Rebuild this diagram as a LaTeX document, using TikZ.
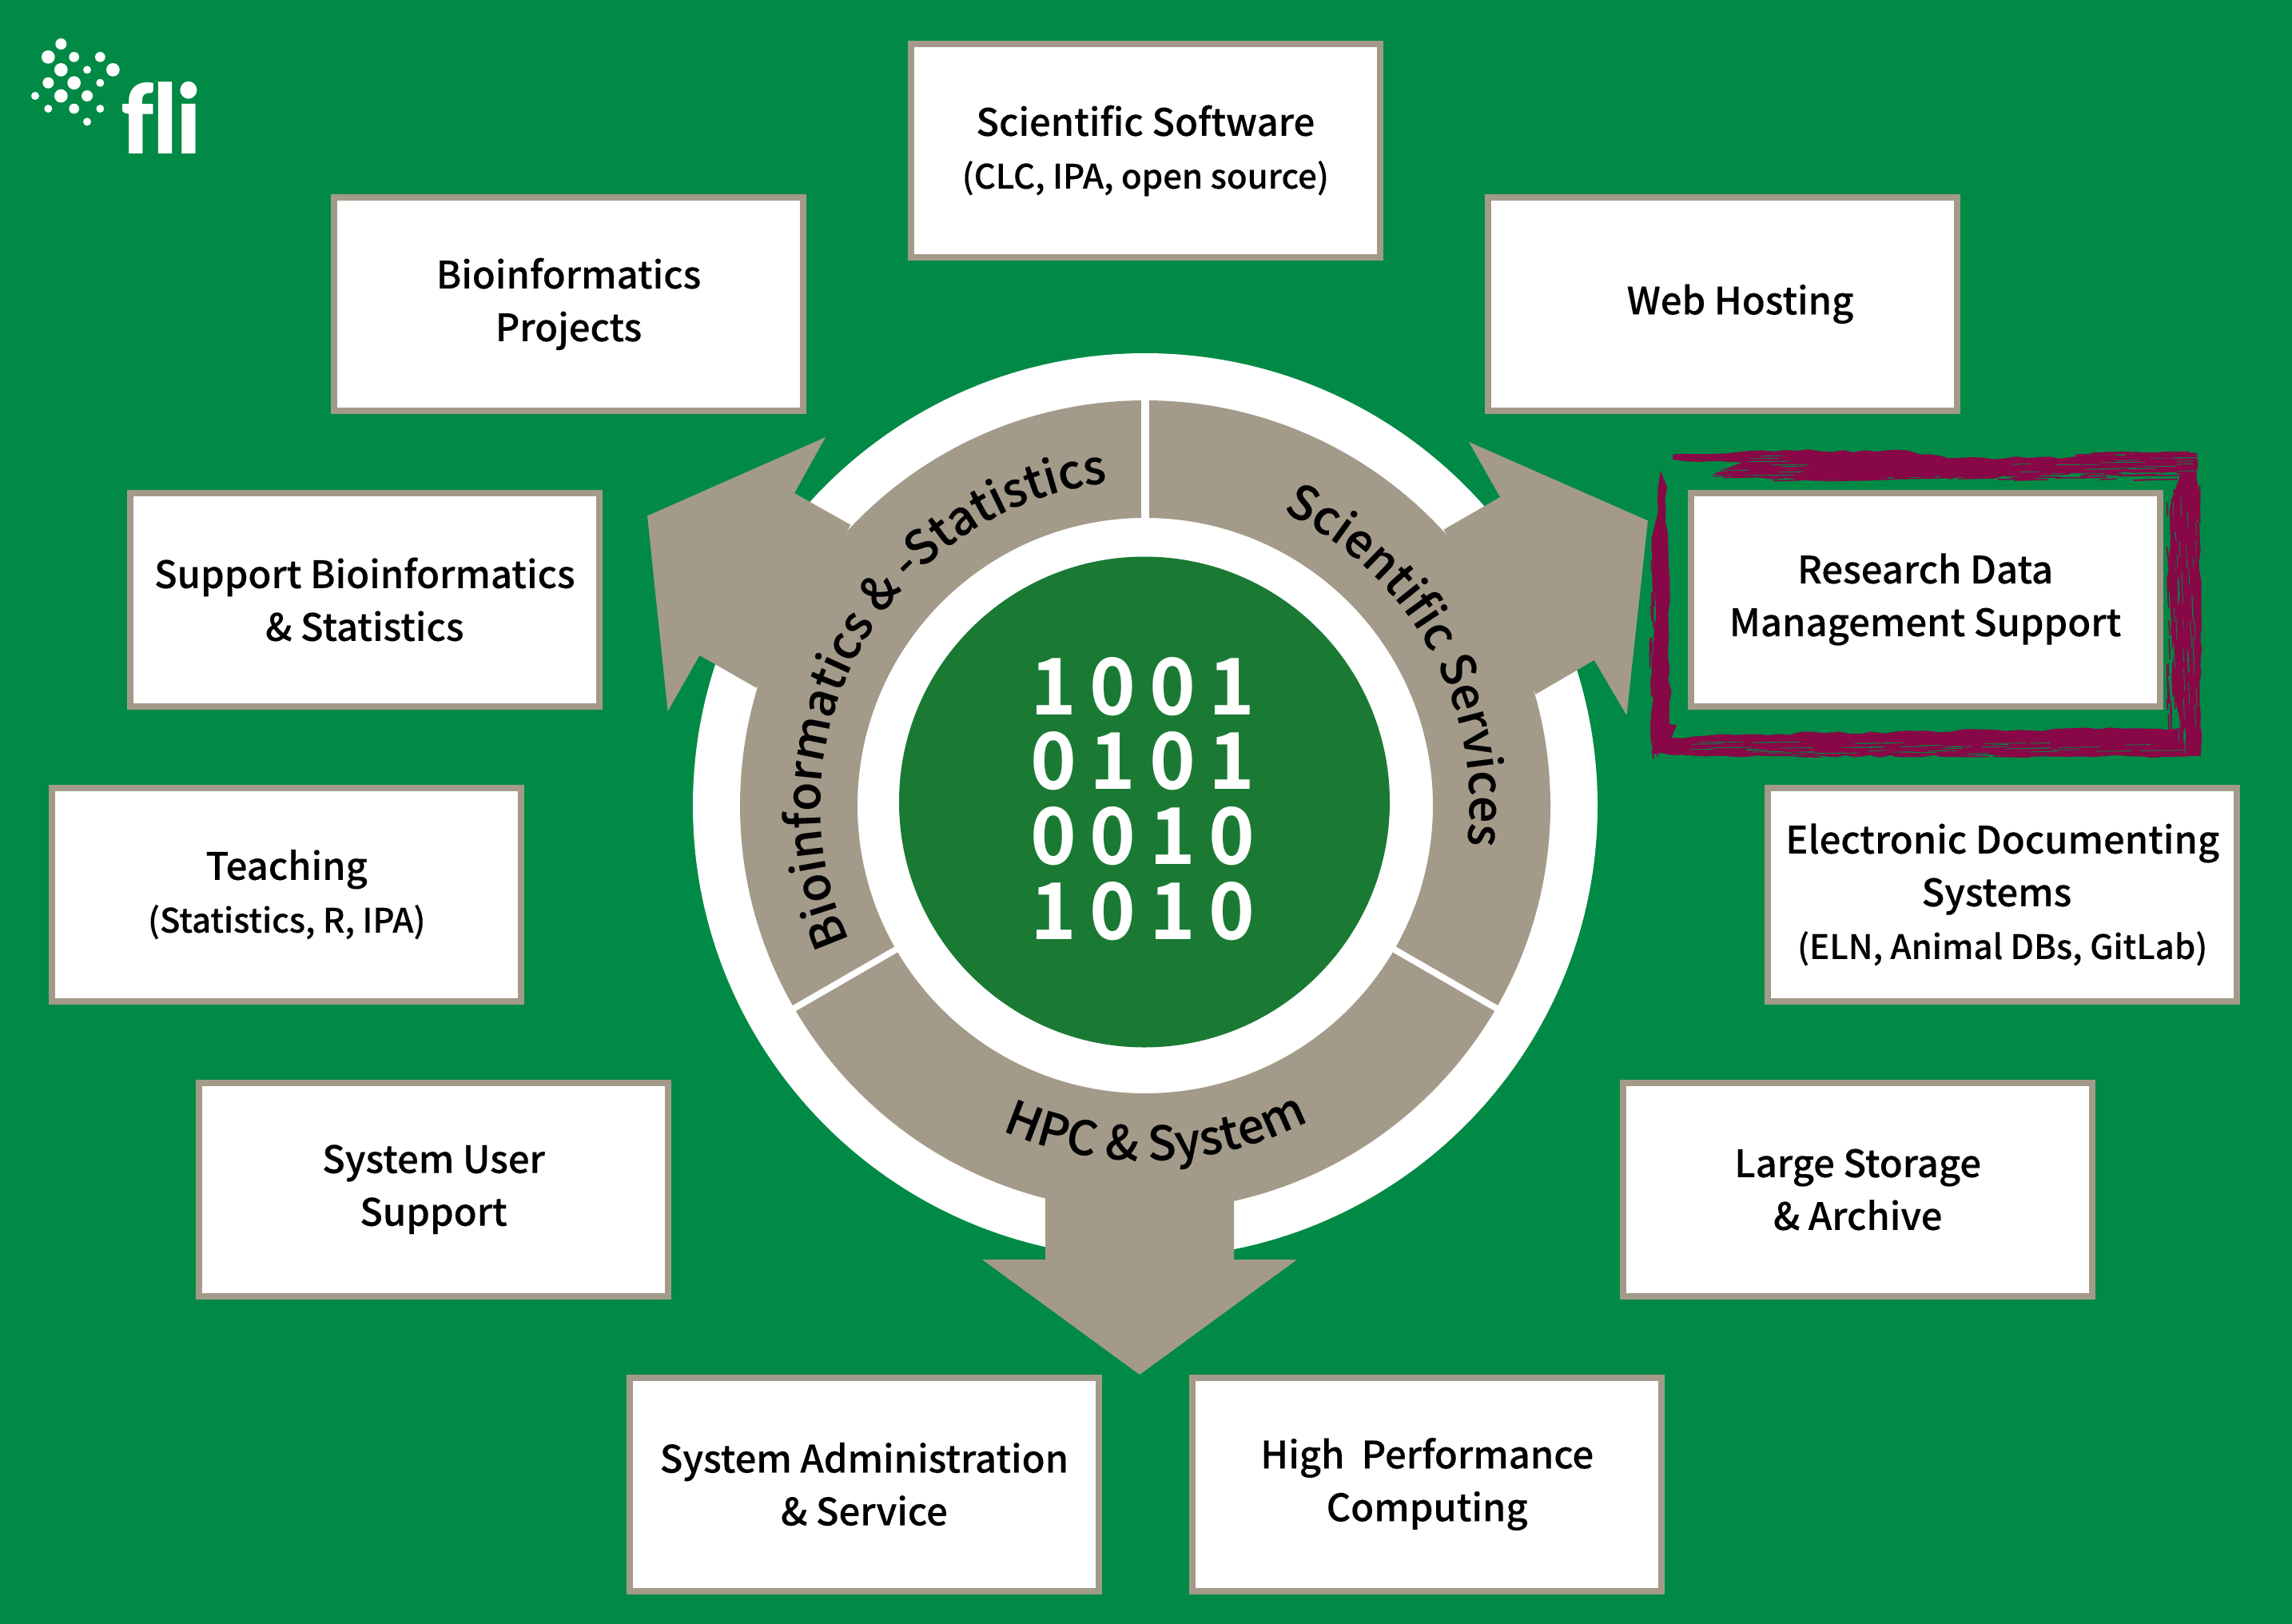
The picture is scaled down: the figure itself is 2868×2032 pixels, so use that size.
\documentclass[tikz,border=0pt]{standalone}
\usepackage{fontspec}
\setmainfont{Noto Sans CJK SC}[UprightFont=* Medium,BoldFont=* Bold,UprightFeatures={FakeBold=0.2}]
\newfontfamily\logofont{Lato}[Ligatures=NoCommon,BoldFont=* Black]
\usetikzlibrary{decorations.text,decorations.pathmorphing}
\definecolor{bggreen}{RGB}{0,138,69}
\definecolor{coregreen}{RGB}{26,122,52}
\definecolor{tan}{RGB}{163,154,138}
\definecolor{brush}{RGB}{135,7,71}
\newcommand{\subtxt}{\fontsize{21}{33}\selectfont}
\newcommand{\ringfont}{\fontsize{29.5}{34}\selectfont}
\newcommand{\dg}[1]{\makebox[37.2pt][c]{#1}}
\tikzset{
  infobox/.style={draw=tan,fill=white,line width=4pt,minimum width=293.5pt,minimum height=133.5pt,
    inner sep=0pt,outer sep=0pt,align=center,text=black,font=\fontsize{23.6}{33}\selectfont},
  bitrow/.style={text=white,inner sep=0pt,font=\fontsize{49}{60}\selectfont\bfseries},
  ringtext/.style={decorate,decoration={text along path,text align=center,text={#1}}},
  brushband/.style={fill=brush,decorate,decoration={random steps,segment length=7pt,amplitude=1.1pt}},
  streak/.style={draw=bggreen,line width=0.4pt},
  stray/.style={draw=brush,line width=0.8pt},
  dot/.style={fill=white,draw=none}
}
\begin{document}
\begin{tikzpicture}[x=0.5pt,y=-0.5pt]
\useasboundingbox (0,0) rectangle (2868,2032);
\fill[bggreen] (0,0) rectangle (2868,2032);
\coordinate (C) at (1433,1008);
\coordinate (K) at (1432,1003.5);

% logo
\begin{scope}[x=0.16667pt,y=-0.16667pt]
\foreach \px/\py/\pr in {229/165/21,181/214/25,278/214/19,376/214/19,229/262/25,327/262/15,424/262/25,181/311/21,278/311/25,376/311/15,132/360/15,229/360/25,327/360/21,181/408/15,278/408/19,376/408/15,327/457/15}
  \fill[dot] (\px,\py) circle[radius=\pr];
\end{scope}
\node[text=white,inner sep=0pt,anchor=base west] (logotext) at (151,193)
  {\scalebox{0.93}[1]{\logofont\bfseries\fontsize{60}{60}\selectfont fli}};

% rings
\fill[white] (C) circle[radius=283pt];
\begin{scope}[shift={(C)},y=0.5pt]
\fill[tan,even odd rule] (0,0) circle[radius=507] (0,0) circle[radius=360];
\draw[white,line width=5pt] (90:359) -- (90:508);
\draw[white,line width=4pt] (210:359) -- (210:508);
\draw[white,line width=4pt] (330:359) -- (330:508);
\path[ringtext={|\ringfont|Bioinformatics {\&} -Statistics}]
  (215.1:407) arc[start angle=215.1,end angle=86.1,radius=407];
\path[ringtext={|\ringfont|Scientific Services}]
  (83:406) arc[start angle=83,end angle=-25,radius=406];
\path[ringtext={|\ringfont|HPC {\&} System}]
  (234.8:444) arc[start angle=234.8,end angle=308.8,radius=444];
\end{scope}
\fill[coregreen] (K) circle[radius=153.5pt];

% arrows
\fill[tan] (1064.4,656.7)--(994,617)--(1033,547)--(810,645.5)--(835.6,890)--(875.4,820)--(946.7,860.8)--cycle;
\fill[tan] (1806.5,662.7)--(1877,622)--(1838,553)--(2062,651.5)--(2035.4,895)--(1994.8,826)--(1921.8,868.6)--cycle;
\fill[tan] (1308,1490)--(1308,1576)--(1229,1576)--(1426,1720)--(1623,1576)--(1544,1576)--(1544,1490)--cycle;

% binary core
\node[bitrow] (bits1) at (1430,859) {\dg{1}\dg{0}\dg{0}\dg{1}};
\node[bitrow] (bits2) at (1430,952) {\dg{0}\dg{1}\dg{0}\dg{1}};
\node[bitrow] (bits3) at (1430,1046) {\dg{0}\dg{0}\dg{1}\dg{0}};
\node[bitrow] (bits4) at (1430,1140) {\dg{1}\dg{0}\dg{1}\dg{0}};

% brush frame
\pgfmathsetseed{11}
\begin{scope}[shift={(2040,540)},x=0.24237pt,y=-0.16667pt]
\fill[brushband] (110,85)--(430,72)--(720,72)--(820,100)--(1130,97)--(1462,80)--(1462,160)--(1300,155)--(1000,170)--(700,176)--(430,180)--(210,165)--(290,115)--(110,105)--cycle;
\fill[brushband] (1400,150)--(1462,80)--(1468,400)--(1474,900)--(1472,1212)--(1415,1212)--(1420,1140)--(1405,1000)--(1392,600)--(1392,300)--(1420,160)--cycle;
\fill[brushband] (55,1212)--(500,1218)--(1472,1218)--(1472,1112)--(1000,1120)--(500,1132)--(220,1138)--(100,1148)--(60,1150)--cycle;
\fill[brushband] (78,145)--(95,210)--(92,300)--(102,600)--(102,1100)--(120,1100)--(102,1160)--(55,1212)--(55,900)--(66,700)--(55,400)--(72,300)--cycle;
\foreach \i in {1,...,45}{
  \pgfmathsetmacro{\sx}{60+rnd*1300}\pgfmathsetmacro{\sy}{1165+rnd*45}\pgfmathsetmacro{\sl}{30+rnd*90}
  \draw[streak] (\sx,\sy) -- ++(\sl,-2);
  \pgfmathsetmacro{\tx}{120+rnd*1300}\pgfmathsetmacro{\ty}{88+rnd*82}\pgfmathsetmacro{\tl}{30+rnd*90}
  \ifdim\tx pt<400pt\draw[streak] (\tx,\ty) -- ++(\tl,-2);\else
    \ifdim\tx pt>980pt\draw[streak] (\tx,\ty) -- ++(\tl,-2);\fi\fi
  \pgfmathsetmacro{\ax}{210+rnd*1150}\pgfmathsetmacro{\ay}{160+rnd*25}\pgfmathsetmacro{\al}{30+rnd*100}
  \draw[stray] (\ax,\ay) -- ++(\al,-3);
  \pgfmathsetmacro{\bx}{80+rnd*1250}\pgfmathsetmacro{\by}{1205+rnd*15}\pgfmathsetmacro{\bl}{30+rnd*100}
  \draw[stray] (\bx,\by) -- ++(\bl,2);
  \pgfmathsetmacro{\cx}{1140+rnd*260}\pgfmathsetmacro{\cy}{78+rnd*22}\pgfmathsetmacro{\cl}{20+rnd*50}
  \draw[stray] (\cx,\cy) -- ++(\cl,-1);
  \pgfmathsetmacro{\dx}{1462+rnd*8}\pgfmathsetmacro{\dy}{200+rnd*900}\pgfmathsetmacro{\dl}{30+rnd*70}
  \draw[stray] (\dx,\dy) -- ++(1,\dl);
  \pgfmathsetmacro{\ex}{1385+rnd*20}\pgfmathsetmacro{\ey}{180+rnd*900}\pgfmathsetmacro{\el}{30+rnd*70}
  \draw[stray] (\ex,\ey) -- ++(2,\el);
  \pgfmathsetmacro{\fx}{50+rnd*20}\pgfmathsetmacro{\fy}{380+rnd*780}\pgfmathsetmacro{\fl}{30+rnd*70}
  \draw[stray] (\fx,\fy) -- ++(1,\fl);
  \pgfmathsetmacro{\vx}{1400+rnd*70}\pgfmathsetmacro{\vy}{180+rnd*950}\pgfmathsetmacro{\vl}{30+rnd*70}
  \draw[streak] (\vx,\vy) -- ++(2,\vl);
}
\end{scope}

% boxes
\node[infobox] (software) at (1433.3,188.5) {Scientific Software\\{\subtxt (CLC, IPA, open source)}};
\node[infobox] (web) at (2155.5,380.4) {\hspace*{22pt}Web Hosting};
\node[infobox] (projects) at (711.5,380.4) {Bioinformatics\\Projects};
\node[infobox] (support) at (456.3,750) {Support Bioinformatics\\\& Statistics};
\node[infobox] (rdm) at (2409,750) {Research Data\\Management Support};
\node[infobox] (docs) at (2505.7,1119.3) {Electronic Documenting\\Systems\hspace*{7.3pt}\mbox{}\\{\subtxt (ELN, Animal DBs, GitLab)}};
\node[infobox] (teaching) at (358.7,1119.2) {Teaching\\{\subtxt (Statistics, R, IPA)}};
\node[infobox] (storage) at (2324.7,1488.5) {Large Storage\\\& Archive};
\node[infobox] (sysuser) at (542.5,1488.2) {System User\\Support};
\node[infobox] (sysadmin) at (1081.4,1857) {System Administration\\\& Service};
\node[infobox] (hpc) at (1785.7,1857) {High\ \ Performance\\Computing};
\end{tikzpicture}
\end{document}
